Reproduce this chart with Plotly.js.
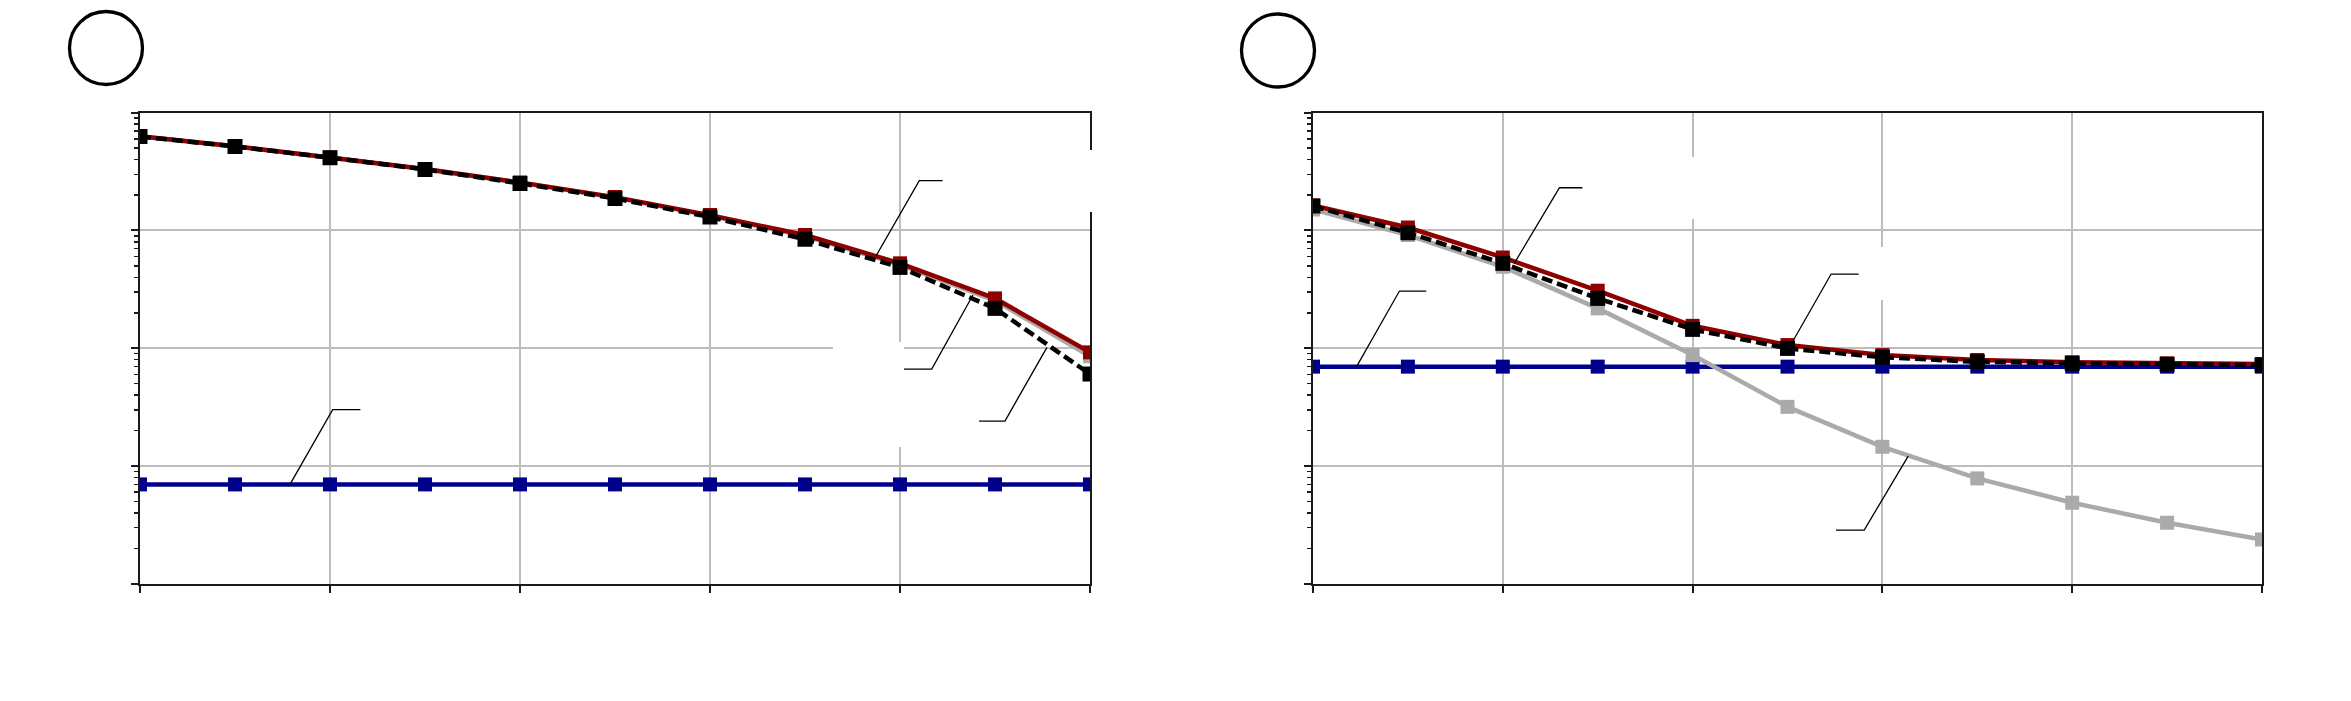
<!DOCTYPE html>
<html>
<head>
<meta charset="utf-8">
<script src="https://cdn.plot.ly/plotly-3.0.1.min.js"></script>
<style>
  html, body { margin: 0; padding: 0; background: #fff; }
  #chart { width: 2351px; height: 701px; }
</style>
</head>
<body>
<div id="chart"></div>
<script>
// ---------- data ----------
const xPoints = [0, 1, 2, 3, 4, 5, 6, 7, 8, 9, 10];

// panel A (left)
const leftRed   = [6.30, 5.19, 4.17, 3.33, 2.56, 1.92, 1.35, 0.915, 0.526, 0.265, 0.0923];
const leftGray  = [6.28, 5.17, 4.15, 3.31, 2.54, 1.90, 1.33, 0.895, 0.512, 0.254, 0.0855];
const leftBlack = [6.28, 5.17, 4.15, 3.30, 2.51, 1.87, 1.30, 0.841, 0.486, 0.218, 0.0604];
const leftBlue  = [0.00698, 0.00698, 0.00698, 0.00698, 0.00698, 0.00698, 0.00698, 0.00698, 0.00698, 0.00698, 0.00698];

// panel B (right)
const rightRed   = [1.63, 1.06, 0.591, 0.308, 0.155, 0.1064, 0.0875, 0.0795, 0.0760, 0.0745, 0.0735];
const rightGray  = [1.51, 0.915, 0.492, 0.218, 0.0875, 0.0318, 0.01456, 0.00785, 0.00488, 0.0033, 0.00238];
const rightBlack = [1.61, 0.957, 0.526, 0.265, 0.1446, 0.0997, 0.0838, 0.0767, 0.0745, 0.0730, 0.0720];
const rightBlue  = [0.0698, 0.0698, 0.0698, 0.0698, 0.0698, 0.0698, 0.0698, 0.0698, 0.0698, 0.0698, 0.0698];

// callout leader lines (anchor on curve -> elbow -> tail end), data units
const leftLeaders = [
  { x: [7.747, 8.203, 8.449], y: [0.607, 2.646, 2.646] },
  { x: [8.768, 8.334, 8.042], y: [0.283, 0.0666, 0.0666] },
  { x: [9.547, 9.105, 8.832], y: [0.1018, 0.0241, 0.0241] },
  { x: [1.579, 2.028, 2.320], y: [0.00698, 0.03016, 0.03016] }
];
const rightLeaders = [
  { x: [2.121, 2.597, 2.839], y: [0.526, 2.306, 2.306] },
  { x: [0.459, 0.911, 1.194], y: [0.0698, 0.306, 0.306] },
  { x: [5.053, 5.460, 5.750], y: [0.1135, 0.4266, 0.4266] },
  { x: [6.272, 5.808, 5.511], y: [0.01215, 0.002857, 0.002857] }
];

// ---------- styles ----------
const W = 2351, H = 701;
const RED = '#8f0000', GRAY = '#aaaaaa', BLACK = '#000000', BLUE = '#00008c';

function series(x, y, color, dash, msize, xa, ya) {
  return {
    x: x, y: y, xaxis: xa, yaxis: ya, type: 'scatter', mode: 'lines+markers',
    line: { color: color, width: 4.5, dash: dash },
    marker: { symbol: 'square', size: msize, color: color },
    showlegend: false, hoverinfo: 'skip'
  };
}
function leader(l, xa, ya) {
  return {
    x: l.x, y: l.y, xaxis: xa, yaxis: ya, type: 'scatter', mode: 'lines',
    line: { color: '#000', width: 1.3 }, showlegend: false, hoverinfo: 'skip'
  };
}

const traces = [
  series(xPoints, leftBlue,  BLUE,  'solid', 14, 'x',  'y'),
  series(xPoints, leftGray,  GRAY,  'solid', 14, 'x',  'y'),
  series(xPoints, leftRed,   RED,   'solid', 14, 'x',  'y'),
  series(xPoints, leftBlack, BLACK, '11px,5px', 15, 'x',  'y'),
  series(xPoints, rightBlue,  BLUE,  'solid', 14, 'x2', 'y2'),
  series(xPoints, rightGray,  GRAY,  'solid', 14, 'x2', 'y2'),
  series(xPoints, rightRed,   RED,   'solid', 14, 'x2', 'y2'),
  series(xPoints, rightBlack, BLACK, '11px,5px', 15, 'x2', 'y2')
];
leftLeaders.forEach(l => traces.push(leader(l, 'x', 'y')));
rightLeaders.forEach(l => traces.push(leader(l, 'x2', 'y2')));

function xAxis(domain, anchor) {
  return {
    domain: domain, anchor: anchor, range: [0, 10], dtick: 2, tick0: 0,
    showgrid: true, gridcolor: '#bdbdbd', gridwidth: 2,
    showline: true, linecolor: '#1a1a1a', linewidth: 2, mirror: true,
    ticks: 'outside', ticklen: 7, tickwidth: 2, tickcolor: '#1a1a1a',
    showticklabels: false, zeroline: false
  };
}
function yAxis(anchor) {
  return {
    domain: [1 - 583.8 / H, 1 - 112.7 / H], anchor: anchor, type: 'log', range: [-3, 1], dtick: 1,
    showgrid: true, gridcolor: '#bdbdbd', gridwidth: 2,
    showline: true, linecolor: '#1a1a1a', linewidth: 2, mirror: true,
    ticks: 'outside', ticklen: 7, tickwidth: 2, tickcolor: '#1a1a1a',
    minor: { ticks: 'outside', ticklen: 4, tickwidth: 1.5, tickcolor: '#1a1a1a', dtick: 'D1', showgrid: false },
    showticklabels: false, zeroline: false
  };
}

const px = v => v / W, py = v => 1 - v / H;
function whiteBox(x0, y0, x1, y1) {
  return { type: 'rect', xref: 'paper', yref: 'paper', x0: px(x0), x1: px(x1), y0: py(y1), y1: py(y0),
           fillcolor: '#ffffff', line: { width: 0 }, layer: 'above' };
}
function ring(cx, cy, r) {
  return { type: 'circle', xref: 'paper', yref: 'paper', x0: px(cx - r), x1: px(cx + r), y0: py(cy + r), y1: py(cy - r),
           line: { color: '#000', width: 3.3 }, fillcolor: 'rgba(0,0,0,0)' };
}

const layout = {
  width: W, height: H,
  margin: { l: 0, r: 0, t: 0, b: 0 },
  paper_bgcolor: '#ffffff', plot_bgcolor: '#ffffff',
  showlegend: false,
  xaxis:  xAxis([140 / W, 1090 / W], 'y'),
  yaxis:  yAxis('x'),
  xaxis2: xAxis([1313 / W, 2262 / W], 'y2'),
  yaxis2: yAxis('x2'),
  shapes: [
    ring(106, 48, 36.5),
    ring(1278, 50.5, 36.5),
    whiteBox(945, 150, 1100, 212),
    whiteBox(833, 342, 904, 400),
    whiteBox(860, 395, 978, 447),
    whiteBox(1584, 157, 1720, 219),
    whiteBox(1860, 247, 1960, 300)
  ]
};

Plotly.newPlot('chart', traces, layout, { staticPlot: true, displayModeBar: false });
</script>
</body>
</html>
